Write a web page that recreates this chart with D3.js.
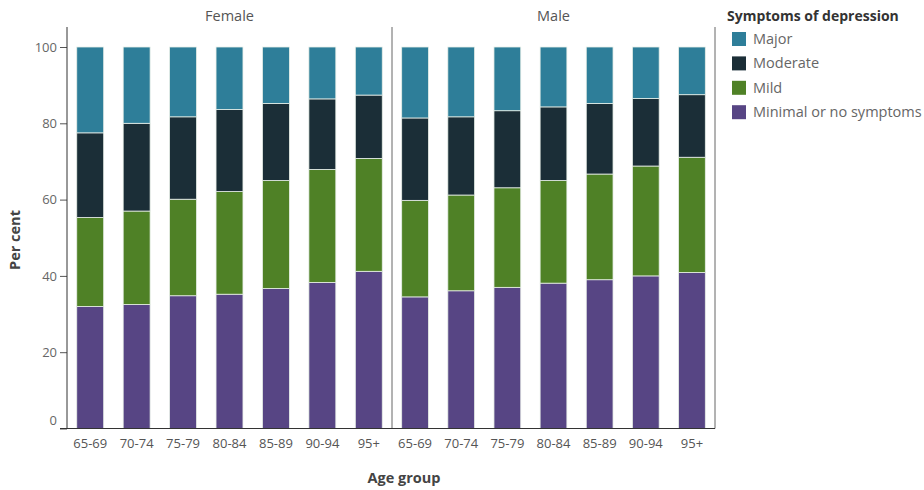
<!DOCTYPE html>
<html><head><meta charset="utf-8">
<script src="https://cdn.jsdelivr.net/npm/d3@7"></script>
<style>
body{margin:0;background:#fff;}
text{font-family:"Open Sans","Noto Sans",sans-serif;}
</style></head>
<body><svg id="c" width="924" height="490"></svg>
<script>
const ageGroups = ["65-69","70-74","75-79","80-84","85-89","90-94","95+"];
const sexes = ["Female","Male"];
const seriesNames = ["Minimal or no symptoms","Mild","Moderate","Major"];
const legendOrder = ["Major","Moderate","Mild","Minimal or no symptoms"];
const colors = ["#574584","#4f8126","#1b2e37","#2e7e99"];
const yTicks = [0,20,40,60,80,100];

const femaleMinimal  = [32.0, 32.5, 34.8, 35.2, 36.7, 38.3, 41.2];
const femaleMild     = [23.3, 24.5, 25.3, 26.9, 28.3, 29.6, 29.6];
const femaleModerate = [22.2, 23.0, 21.6, 21.5, 20.2, 18.5, 16.6];
const femaleMajor    = [22.5, 20.0, 18.3, 16.4, 14.8, 13.6, 12.6];

const maleMinimal  = [34.5, 36.1, 37.0, 38.1, 39.0, 40.0, 40.9];
const maleMild     = [25.3, 25.1, 26.1, 26.9, 27.7, 28.8, 30.2];
const maleModerate = [21.6, 20.5, 20.2, 19.3, 18.5, 17.7, 16.4];
const maleMajor    = [18.6, 18.3, 16.7, 15.7, 14.8, 13.5, 12.5];

const dataBySex = {
  Female: [femaleMinimal, femaleMild, femaleModerate, femaleMajor],
  Male: [maleMinimal, maleMild, maleModerate, maleMajor]
};

const svg = d3.select("#c");
const plotTop = 27, plotBottom = 428.5;
const panels = {Female:[67,392], Male:[392,715]};
const y = d3.scaleLinear().domain([0,100]).range([428.5,47]);
const color = d3.scaleOrdinal().domain(seriesNames).range(colors);

// y axis
const yAxis = svg.append("g").attr("transform","translate(67,0)")
  .call(d3.axisLeft(y).tickValues(yTicks).tickSize(7).tickPadding(3));
yAxis.select(".domain").remove();
yAxis.selectAll(".tick line").attr("stroke","#555");
yAxis.selectAll(".tick text").attr("fill","#666").style("font-size","13px")
  .attr("dy", d => d===0 ? "-0.3em" : "0.32em");

sexes.forEach(sex => {
  const [x0,x1] = panels[sex];
  const x = d3.scaleBand().domain(ageGroups).range([x0,x1]).paddingInner(0.42).paddingOuter(0.21);
  const rows = ageGroups.map((a,i) => {
    const r = {age:a};
    seriesNames.forEach((s,k) => r[s] = dataBySex[sex][k][i]);
    return r;
  });
  const stack = d3.stack().keys(seriesNames)(rows);
  const g = svg.append("g");
  g.selectAll("g").data(stack).join("g").attr("fill", d => color(d.key))
    .selectAll("rect").data(d => d).join("rect")
    .attr("x", d => x(d.data.age))
    .attr("width", x.bandwidth())
    .attr("y", d => y(d[1]))
    .attr("height", d => y(d[0]) - y(d[1]))
    .attr("stroke","#e8efe8").attr("stroke-width",0.8);

  const xa = svg.append("g").attr("transform",`translate(0,${plotBottom})`)
    .call(d3.axisBottom(x).tickSize(0).tickPadding(10));
  xa.select(".domain").remove();
  xa.selectAll(".tick text").attr("fill","#555").style("font-size","13px");

  svg.append("text").attr("x",(x0+x1)/2).attr("y",21).attr("text-anchor","middle")
    .attr("fill","#555").style("font-size","14.5px").text(sex);
});

// panel borders
[67,392,715].forEach(px => {
  svg.append("line").attr("x1",px).attr("x2",px).attr("y1",plotTop).attr("y2",plotBottom)
    .attr("stroke", px===67 ? "#333" : "#666").attr("stroke-width",1);
});
svg.append("line").attr("x1",60).attr("x2",715).attr("y1",plotBottom).attr("y2",plotBottom)
  .attr("stroke","#333").attr("stroke-width",1);

// axis titles
svg.append("text").attr("transform","translate(20,240) rotate(-90)").attr("text-anchor","middle")
  .attr("fill","#444").style("font-size","14.5px").style("font-weight","bold").text("Per cent");
svg.append("text").attr("x",404).attr("y",483).attr("text-anchor","middle")
  .attr("fill","#444").style("font-size","14.5px").style("font-weight","bold").text("Age group");

// legend
const lg = svg.append("g");
lg.append("text").attr("x",727).attr("y",21).attr("fill","#333")
  .style("font-size","14px").style("font-weight","bold").text("Symptoms of depression");
legendOrder.forEach((s,i) => {
  const cy = 39 + i*24.4;
  lg.append("rect").attr("x",732).attr("y",cy-7).attr("width",14).attr("height",14).attr("fill",color(s));
  lg.append("text").attr("x",753).attr("y",cy+5).attr("fill","#666").style("font-size","14.5px").text(s);
});
</script></body></html>
